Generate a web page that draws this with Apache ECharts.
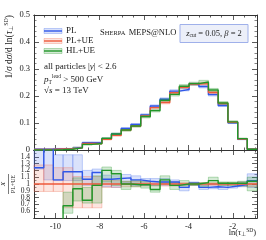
<!DOCTYPE html>
<html><head><meta charset="utf-8">
<script src="https://cdn.jsdelivr.net/npm/echarts@6/dist/echarts.min.js"></script>
<style>html,body{margin:0;padding:0;background:#fff}#c{width:266px;height:240px}</style>
</head><body><div id="c"></div>
<script>
// ---- data ----
const edges = [-10.96,-10.52,-10.09,-9.65,-9.21,-8.78,-8.34,-7.90,-7.47,-7.03,-6.59,-6.15,-5.72,-5.28,-4.84,-4.41,-3.97,-3.53,-3.10,-2.66,-2.22,-1.78,-1.35,-0.91];
const valPL   = [0.003,0.003,0.005,0.005,0.009,0.027,0.027,0.042,0.059,0.080,0.095,0.130,0.163,0.188,0.218,0.224,0.244,0.235,0.205,0.165,0.101,0.040,0.003];
const valPLUE = [0.002,0.002,0.004,0.004,0.008,0.024,0.024,0.040,0.054,0.074,0.089,0.126,0.157,0.176,0.212,0.232,0.244,0.246,0.213,0.172,0.103,0.041,0.003];
const valHLUE = [0.000,0.000,0.001,0.003,0.008,0.021,0.024,0.043,0.059,0.074,0.089,0.124,0.146,0.184,0.206,0.236,0.246,0.252,0.222,0.174,0.104,0.042,0.003];
const errPL   = [0.001,0.001,0.001,0.001,0.002,0.003,0.003,0.003,0.003,0.003,0.003,0.004,0.004,0.005,0.005,0.005,0.004,0.005,0.005,0.004,0.003,0.002,0.001];
const errPLUE = [0.001,0.001,0.001,0.001,0.002,0.003,0.003,0.003,0.003,0.003,0.003,0.004,0.004,0.005,0.005,0.005,0.004,0.005,0.005,0.004,0.003,0.002,0.001];
const errHLUE = [0.001,0.001,0.001,0.001,0.002,0.003,0.003,0.003,0.004,0.004,0.004,0.005,0.005,0.006,0.006,0.006,0.005,0.006,0.006,0.005,0.004,0.002,0.001];
const ratioPL   = [1.24,1.60,1.06,1.18,1.18,1.07,1.17,1.07,1.08,1.09,1.06,1.04,1.03,1.03,1.03,0.95,1.01,0.95,0.96,0.95,0.97,0.99,1.05];
const ratioPLUE = [1,1,1,1,1,1,1,1,1,1,1,1,1,1,1,1,1,1,1,1,1,1,1];
const ratioHLUE = [0,0,0,0.68,0.93,0.76,0.98,1.20,1.15,1.00,0.99,0.99,0.92,1.06,0.98,1.00,1.00,1.02,1.05,1.01,1.01,1.01,1.04];
const bandPLlo   = [1.22,1.06,1.05,1.05,1.05,0.98,1.00,0.96,0.95,1.02,0.98,0.98,0.98,0.98,0.98,0.90,0.98,0.92,0.93,0.92,0.94,0.96,0.95];
const bandPLhi   = [1.50,1.70,1.43,1.43,1.43,1.20,1.22,1.13,1.12,1.14,1.12,1.08,1.08,1.08,1.06,0.99,1.03,0.98,1.00,0.99,1.00,1.03,1.15];
const bandPLUElo = [0.89,0.89,0.89,0.65,0.65,0.65,0.65,0.95,0.95,0.96,0.96,0.97,0.97,0.97,0.97,0.98,0.98,0.98,0.98,0.98,0.98,0.97,0.96];
const bandPLUEhi = [1.28,1.28,1.24,1.24,1.11,1.11,1.11,1.05,1.05,1.04,1.04,1.03,1.03,1.03,1.03,1.02,1.02,1.02,1.02,1.02,1.02,1.03,1.04];
const bandHLlo   = [0,0,0,0.57,0.75,0.72,0.72,1.03,0.98,0.92,0.96,0.94,0.88,1.00,0.92,0.95,0.98,0.96,1.00,0.98,0.98,0.97,0.90];
const bandHLhi   = [0,0,0,0.88,1.09,0.95,1.12,1.25,1.20,1.04,1.05,1.04,0.98,1.12,1.02,1.05,1.02,1.02,1.10,1.03,1.03,1.04,1.10];
const xMajor = [-10,-8,-6,-4,-2];
const xMinor = [-10.5,-9.5,-9,-8.5,-7.5,-7,-6.5,-5.5,-5,-4.5,-3.5,-3,-2.5,-1.5,-1];
const seriesNames = ['PL','PL+UE','HL+UE'];

// ---- style ----
const C = {blue:'#3058e8', red:'#ee5a3c', green:'#22962a'};
const B = {blue:'rgba(70,110,235,0.2)', red:'rgba(238,110,85,0.18)', green:'rgba(40,150,45,0.2)'};
const BS = {blue:'rgba(70,110,235,0.4)', red:'rgba(238,110,85,0.4)', green:'rgba(40,150,45,0.4)'};
const FONT = 'Liberation Serif';
const XMIN = -10.96, XMAX = -0.91;

function stepData(v){ const d=[]; for(let i=0;i<v.length;i++) d.push([edges[i], v[i]]); d.push([edges[v.length], v[v.length-1]]); return d; }
function bandData(lo,hi){ return lo.map((l,i)=>[edges[i],edges[i+1],l,hi[i]]); }
function bandDataErr(v,e){ return v.map((x,i)=>[edges[i],edges[i+1],x-e[i],x+e[i]]); }

function bandSeries(data, xi, yi, fill, stroke, ymin, ymax){
  return {type:'custom', xAxisIndex:xi, yAxisIndex:yi, data:data, silent:true, z:1,
    encode:{x:[0,1], y:[2,3]},
    renderItem:function(params, api){
      let lo=Math.max(ymin, api.value(2)), hi=Math.min(ymax, api.value(3));
      if(hi<=lo) return;
      const p1=api.coord([api.value(0), hi]), p2=api.coord([api.value(1), lo]);
      return {type:'rect', shape:{x:p1[0], y:p1[1], width:p2[0]-p1[0], height:p2[1]-p1[1]},
        style:{fill:fill, stroke:stroke, lineWidth:0.8}};
    }};
}
function lineSeries(name, data, xi, yi, color){
  return {type:'line', name:name, xAxisIndex:xi, yAxisIndex:yi, data:data, step:'end', symbol:'none',
    clip:true, z:3, lineStyle:{color:color, width:1.4}, animation:false};
}

function xAx(grid, pos, vals, len, labels){
  return {type:'value', gridIndex:grid, position:pos, min:XMIN, max:XMAX,
    axisLine:{show:true, onZero:false, lineStyle:{color:'#333', width:1}},
    axisTick:{show:true, inside:true, length:len, customValues:vals, lineStyle:{color:'#333', width:0.8}},
    axisLabel:{show:!!labels, customValues:vals, color:'#222', fontFamily:FONT, fontSize:8.5, margin:4},
    splitLine:{show:false}};
}
function yAx(grid, pos, min, max, interval, labels, minorSplit, fmt, fs){
  return {type:'value', gridIndex:grid, position:pos, min:min, max:max, interval:interval,
    axisLine:{show:true, onZero:false, lineStyle:{color:'#333', width:1}},
    axisTick:{show:true, inside:true, length:5, lineStyle:{color:'#333', width:0.8}},
    minorTick:{show:true, splitNumber:minorSplit, length:2.5, lineStyle:{color:'#333', width:0.6}},
    axisLabel:{show:labels, color:'#222', fontFamily:FONT, fontSize:fs||8.5, margin:4, formatter:fmt, interval:0, hideOverlap:false},
    splitLine:{show:false}, minorSplitLine:{show:false}};
}

const chart = echarts.init(document.getElementById('c'), null, {renderer:'canvas'});
const series = [
  bandSeries(bandDataErr(valPL,errPL),0,0,B.blue,BS.blue,0,0.5),
  bandSeries(bandDataErr(valPLUE,errPLUE),0,0,B.red,BS.red,0,0.5),
  bandSeries(bandDataErr(valHLUE,errHLUE),0,0,B.green,BS.green,0,0.5),
  lineSeries(seriesNames[0], stepData(valPL),0,0,C.blue),
  lineSeries(seriesNames[1], stepData(valPLUE),0,0,C.red),
  lineSeries(seriesNames[2], stepData(valHLUE),0,0,C.green),
  bandSeries(bandData(bandPLlo,bandPLhi),4,2,B.blue,BS.blue,0.5,1.5),
  bandSeries(bandData(bandPLUElo,bandPLUEhi),4,2,B.red,BS.red,0.5,1.5),
  bandSeries(bandData(bandHLlo,bandHLhi),4,2,B.green,BS.green,0.5,1.5),
  lineSeries(seriesNames[0]+' r', stepData(ratioPL),4,2,C.blue),
  lineSeries(seriesNames[1]+' r', stepData(ratioPLUE),4,2,C.red),
  lineSeries(seriesNames[2]+' r', stepData(ratioHLUE),4,2,C.green)
];

const legendG = [];
const lc = [[C.blue,B.blue,BS.blue],[C.red,B.red,BS.red],[C.green,B.green,BS.green]];
seriesNames.forEach((n,i)=>{
  const y = 31 + i*10;
  legendG.push({type:'rect', shape:{x:44,y:y-2.5,width:18,height:5}, style:{fill:lc[i][1], stroke:lc[i][2], lineWidth:0.8}});
  legendG.push({type:'line', shape:{x1:44,y1:y,x2:62,y2:y}, style:{stroke:lc[i][0], lineWidth:1.4}});
  legendG.push({type:'text', x:66, y:y, style:{text:n, fontFamily:FONT, fontSize:9, fill:'#222', verticalAlign:'middle'}});
});

const option = {
  animation:false,
  grid:[{left:34, top:15, width:223, height:135},{left:34, top:150, width:223, height:68}],
  xAxis:[
    xAx(0,'bottom',xMajor,5,false), xAx(0,'top',xMajor,5,false),
    xAx(0,'bottom',xMinor,2.5,false), xAx(0,'top',xMinor,2.5,false),
    xAx(1,'bottom',xMajor,5,true), xAx(1,'top',xMajor,5,false),
    xAx(1,'bottom',xMinor,2.5,false), xAx(1,'top',xMinor,2.5,false)
  ],
  yAxis:[
    yAx(0,'left',0,0.5,0.1,true,5,v=>String(+v.toFixed(1))),
    yAx(0,'right',0,0.5,0.1,false,5),
    yAx(1,'left',0.5,1.5,0.1,true,2,v=>v>1.45?'':String(+v.toFixed(1)),7.5),
    yAx(1,'right',0.5,1.5,0.1,false,2)
  ],
  series:series,
  graphic:[
    ...legendG,
    {type:'text', x:100, y:33, style:{text:'{a|S}{b|HERPA} {a|MEPS@NLO}', verticalAlign:'middle', fill:'#222',
      rich:{a:{fontFamily:FONT, fontSize:8.5, fill:'#222'}, b:{fontFamily:FONT, fontSize:6.5, fill:'#222'}}}},
    {type:'rect', shape:{x:180,y:24.5,width:68,height:18}, style:{fill:'#eceff9', stroke:'#9fb0ea', lineWidth:1}},
    {type:'text', x:214, y:33.5, style:{text:'{i|z}{s|cut} = 0.05, {i|β} = 2', align:'center', verticalAlign:'middle', fill:'#222',
      rich:{i:{fontFamily:FONT, fontStyle:'italic', fontSize:8.5, fill:'#222'}, s:{fontFamily:FONT, fontSize:5.5, fill:'#222', padding:[4,0,0,0]}},
      fontFamily:FONT, fontSize:8.5}},
    {type:'text', x:44, y:67, style:{text:'all particles |{i|y}| < 2.6', verticalAlign:'middle', fontFamily:FONT, fontSize:9, fill:'#222',
      rich:{i:{fontFamily:FONT, fontStyle:'italic', fontSize:9, fill:'#222'}}}},
    {type:'text', x:44, y:80, style:{text:'{i|p}{s|T}{u|lead} > 500 GeV', verticalAlign:'middle', fontFamily:FONT, fontSize:9, fill:'#222',
      rich:{i:{fontFamily:FONT, fontStyle:'italic', fontSize:9, fill:'#222'}, s:{fontFamily:FONT, fontSize:5.5, fill:'#222', padding:[5,0,0,0]}, u:{fontFamily:FONT, fontSize:5.5, fill:'#222', padding:[0,0,6,0]}}}},
    {type:'text', x:44, y:91, style:{text:'√{o|s} = 13 TeV', verticalAlign:'middle', fontFamily:FONT, fontSize:9, fill:'#222',
      rich:{o:{fontFamily:FONT, fontStyle:'italic', fontSize:9, fill:'#222'}}}},
    {type:'text', x:9, y:15, rotation:Math.PI/2, style:{text:'1/{i|σ} d{i|σ}/d ln({i|τ}{s|⊥}{u|SD})', align:'right', verticalAlign:'middle', fontFamily:FONT, fontSize:9.5, fill:'#222',
      rich:{i:{fontFamily:FONT, fontStyle:'italic', fontSize:9.5, fill:'#222'}, s:{fontFamily:FONT, fontSize:6, fill:'#222', padding:[4,0,0,0]}, u:{fontFamily:FONT, fontSize:6, fill:'#222', padding:[0,0,6,0]}}}},
    {type:'group', x:10, y:184, rotation:Math.PI/2, children:[
      {type:'text', x:0, y:-3, style:{text:'X', align:'center', verticalAlign:'bottom', fontFamily:FONT, fontStyle:'italic', fontSize:6.5, fill:'#222'}},
      {type:'line', shape:{x1:-10,y1:-1.5,x2:10,y2:-1.5}, style:{stroke:'#222', lineWidth:0.6}},
      {type:'text', x:0, y:0, style:{text:'PL+UE', align:'center', verticalAlign:'top', fontFamily:FONT, fontSize:6, fill:'#222'}}
    ]},
    {type:'text', x:256, y:233, style:{text:'ln({i|τ}{s|⊥}{u|SD})', align:'right', verticalAlign:'middle', fontFamily:FONT, fontSize:8.5, fill:'#222',
      rich:{i:{fontFamily:FONT, fontStyle:'italic', fontSize:8.5, fill:'#222'}, s:{fontFamily:FONT, fontSize:5.5, fill:'#222', padding:[4,0,0,0]}, u:{fontFamily:FONT, fontSize:5.5, fill:'#222', padding:[0,0,5,0]}}}}
  ]
};
chart.setOption(option);
</script></body></html>
